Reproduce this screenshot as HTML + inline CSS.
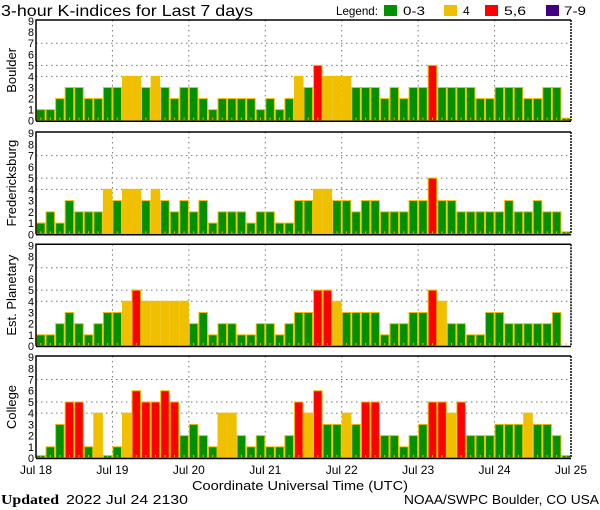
<!DOCTYPE html>
<html><head><meta charset="utf-8"><style>
html,body{margin:0;padding:0;background:#fff;}
svg{display:block;font-family:"Liberation Sans",sans-serif;}
</style></head><body>
<svg id="chart" width="600" height="510" viewBox="0 0 600 510" xmlns="http://www.w3.org/2000/svg">
<text x="1" y="16" font-size="16" textLength="252" lengthAdjust="spacingAndGlyphs">3-hour K-indices for Last 7 days</text>
<g font-size="12">
<text x="336" y="15" textLength="42" lengthAdjust="spacingAndGlyphs">Legend:</text>
<rect x="384" y="5" width="13" height="11" fill="#009000"/>
<text x="403" y="15" textLength="22" lengthAdjust="spacingAndGlyphs">0-3</text>
<rect x="444" y="5" width="13" height="11" fill="#f0c000"/>
<text x="463" y="15">4</text>
<rect x="485" y="5" width="13" height="11" fill="#ff0000"/>
<text x="504" y="15" textLength="22" lengthAdjust="spacingAndGlyphs">5,6</text>
<rect x="546" y="5" width="13" height="11" fill="#400080"/>
<text x="564" y="15" textLength="22" lengthAdjust="spacingAndGlyphs">7-9</text>
</g>
<g id="panels"></g>
<text x="192" y="490" font-size="13" textLength="216" lengthAdjust="spacingAndGlyphs">Coordinate Universal Time (UTC)</text>
<text x="1" y="504" font-size="14" font-family="Liberation Serif,serif" font-weight="bold" textLength="58" lengthAdjust="spacingAndGlyphs">Updated</text>
<text x="66" y="504" font-size="13" textLength="122" lengthAdjust="spacingAndGlyphs">2022 Jul 24 2130</text>
<text x="599" y="504" font-size="13" text-anchor="end" textLength="195" lengthAdjust="spacingAndGlyphs">NOAA/SWPC Boulder, CO USA</text>
</svg>
<script>
const stations = ["Boulder","Fredericksburg","Est. Planetary","College"];
const boulder = [1,1,2,3,3,2,2,3, 3,4,4,3,4,3,2,3, 3,2,1,2,2,2,2,1, 2,1,2,4,3,5,4,4, 4,3,3,3,2,3,2,3, 3,5,3,3,3,3,2,2, 3,3,3,2,2,3,3,0];
const fredericksburg = [1,2,1,3,2,2,2,4, 3,4,4,3,4,3,2,3, 2,3,1,2,2,2,1,2, 2,1,1,3,3,4,4,3, 3,2,3,3,2,2,2,3, 3,5,3,3,2,2,2,2, 2,3,2,2,3,2,2,0];
const planetary = [1,1,2,3,2,1,2,3, 3,4,5,4,4,4,4,4, 2,3,1,2,2,1,1,2, 2,1,2,3,3,5,5,4, 3,3,3,3,1,2,2,3, 3,5,4,2,2,1,1,3, 3,2,2,2,2,2,3,null];
const college = [0,1,3,5,5,1,4,0, 1,4,6,5,5,6,5,2, 3,2,1,4,4,2,1,2, 1,1,2,5,4,6,3,3, 4,3,5,5,2,2,1,2, 3,5,5,4,5,2,2,2, 3,3,3,4,3,3,2,0];
const dayLabels = ["Jul 18","Jul 19","Jul 20","Jul 21","Jul 22","Jul 23","Jul 24","Jul 25"];
const yTicks = [0,1,2,3,4,5,6,7,8,9];
const gridLevels = [4,5,7];

const series = [boulder, fredericksburg, planetary, college];
const panelBox = [[20,120.7],[132,234.3],[244.3,346],[356,458]];
const X0 = 36, X1 = 571;
const NS = "http://www.w3.org/2000/svg";
const root = document.getElementById('panels');
function mk(tag, attrs, parent){const e=document.createElementNS(NS,tag);for(const k in attrs)e.setAttribute(k,attrs[k]);parent.appendChild(e);return e;}
function color(v){return v<=3?"#009000":v==4?"#f0c000":v<=6?"#ff0000":"#400080";}

series.forEach((vals,p)=>{
  const top=panelBox[p][0], zero=panelBox[p][1];
  const unit=(zero-top)/9.1;
  const n=vals.length, bw=(X1-X0)/n;
  const x=i=>X0+i*bw;
  const y=v=>zero-v*unit;
  const g=mk('g',{},root);
  
  
  gridLevels.forEach(l=>{
    const ln=mk('line',{x1:X0,x2:X1,y1:y(l),y2:y(l),stroke:'#777','stroke-dasharray':'1.5,3.5','stroke-width':1},g);
    
    
  });
  for(let d=1;d<7;d++){
    const ln=mk('line',{x1:x(d*8),x2:x(d*8),y1:top,y2:zero,stroke:'#777','stroke-dasharray':'1.5,3.5','stroke-width':1},g);
    
    
  }
  vals.forEach((v,i)=>{
    if(v!==null){
      const h=Math.max(v*unit,2.5);
      const r=mk('rect',{x:x(i)+0.5,y:zero-h,width:bw-1,height:h,fill:color(v),stroke:'#f0c000','stroke-width':1},g);
      
      
    }
    const t=mk('rect',{x:x(i)+bw/2-0.5,y:zero-3,width:1,height:2,fill:'#f0c000'},g);
    
    
  });
  const fr=mk('path',{d:`M${X0} ${zero} V${top} H${X1}`,fill:'none',stroke:'#000','stroke-width':1.5},g);
  
  
  const rt=mk('line',{x1:X1,x2:X1,y1:top,y2:zero,stroke:'#000','stroke-width':1.5,'stroke-dasharray':'2,1'},g);
  
  
  const ax=mk('line',{x1:X0,x2:X1,y1:zero+0.5,y2:zero+0.5,stroke:'#000','stroke-width':1.5},g);
  
  
  yTicks.forEach(t=>{
    const tx=mk('text',{x:34,y:y(t)+4,'font-size':11,'text-anchor':'end'},g);
    
    
    tx.setAttribute('textLength','6');
    tx.setAttribute('lengthAdjust','spacingAndGlyphs');
    tx.textContent=t;
  });
  const cy=(top+zero)/2;
  const sl=mk('text',{x:0,y:0,'font-size':13,'text-anchor':'middle',transform:`translate(16 ${cy}) rotate(-90)`},g);
  
  
  sl.textContent=stations[p];
  if(p===series.length-1){
    dayLabels.forEach((lab,d)=>{
      const tl=mk('text',{x:x(d*8),y:474,'font-size':12,'text-anchor':'middle'},g);
      
      
      tl.textContent=lab;
    });
  }
});
</script>
</body></html>
